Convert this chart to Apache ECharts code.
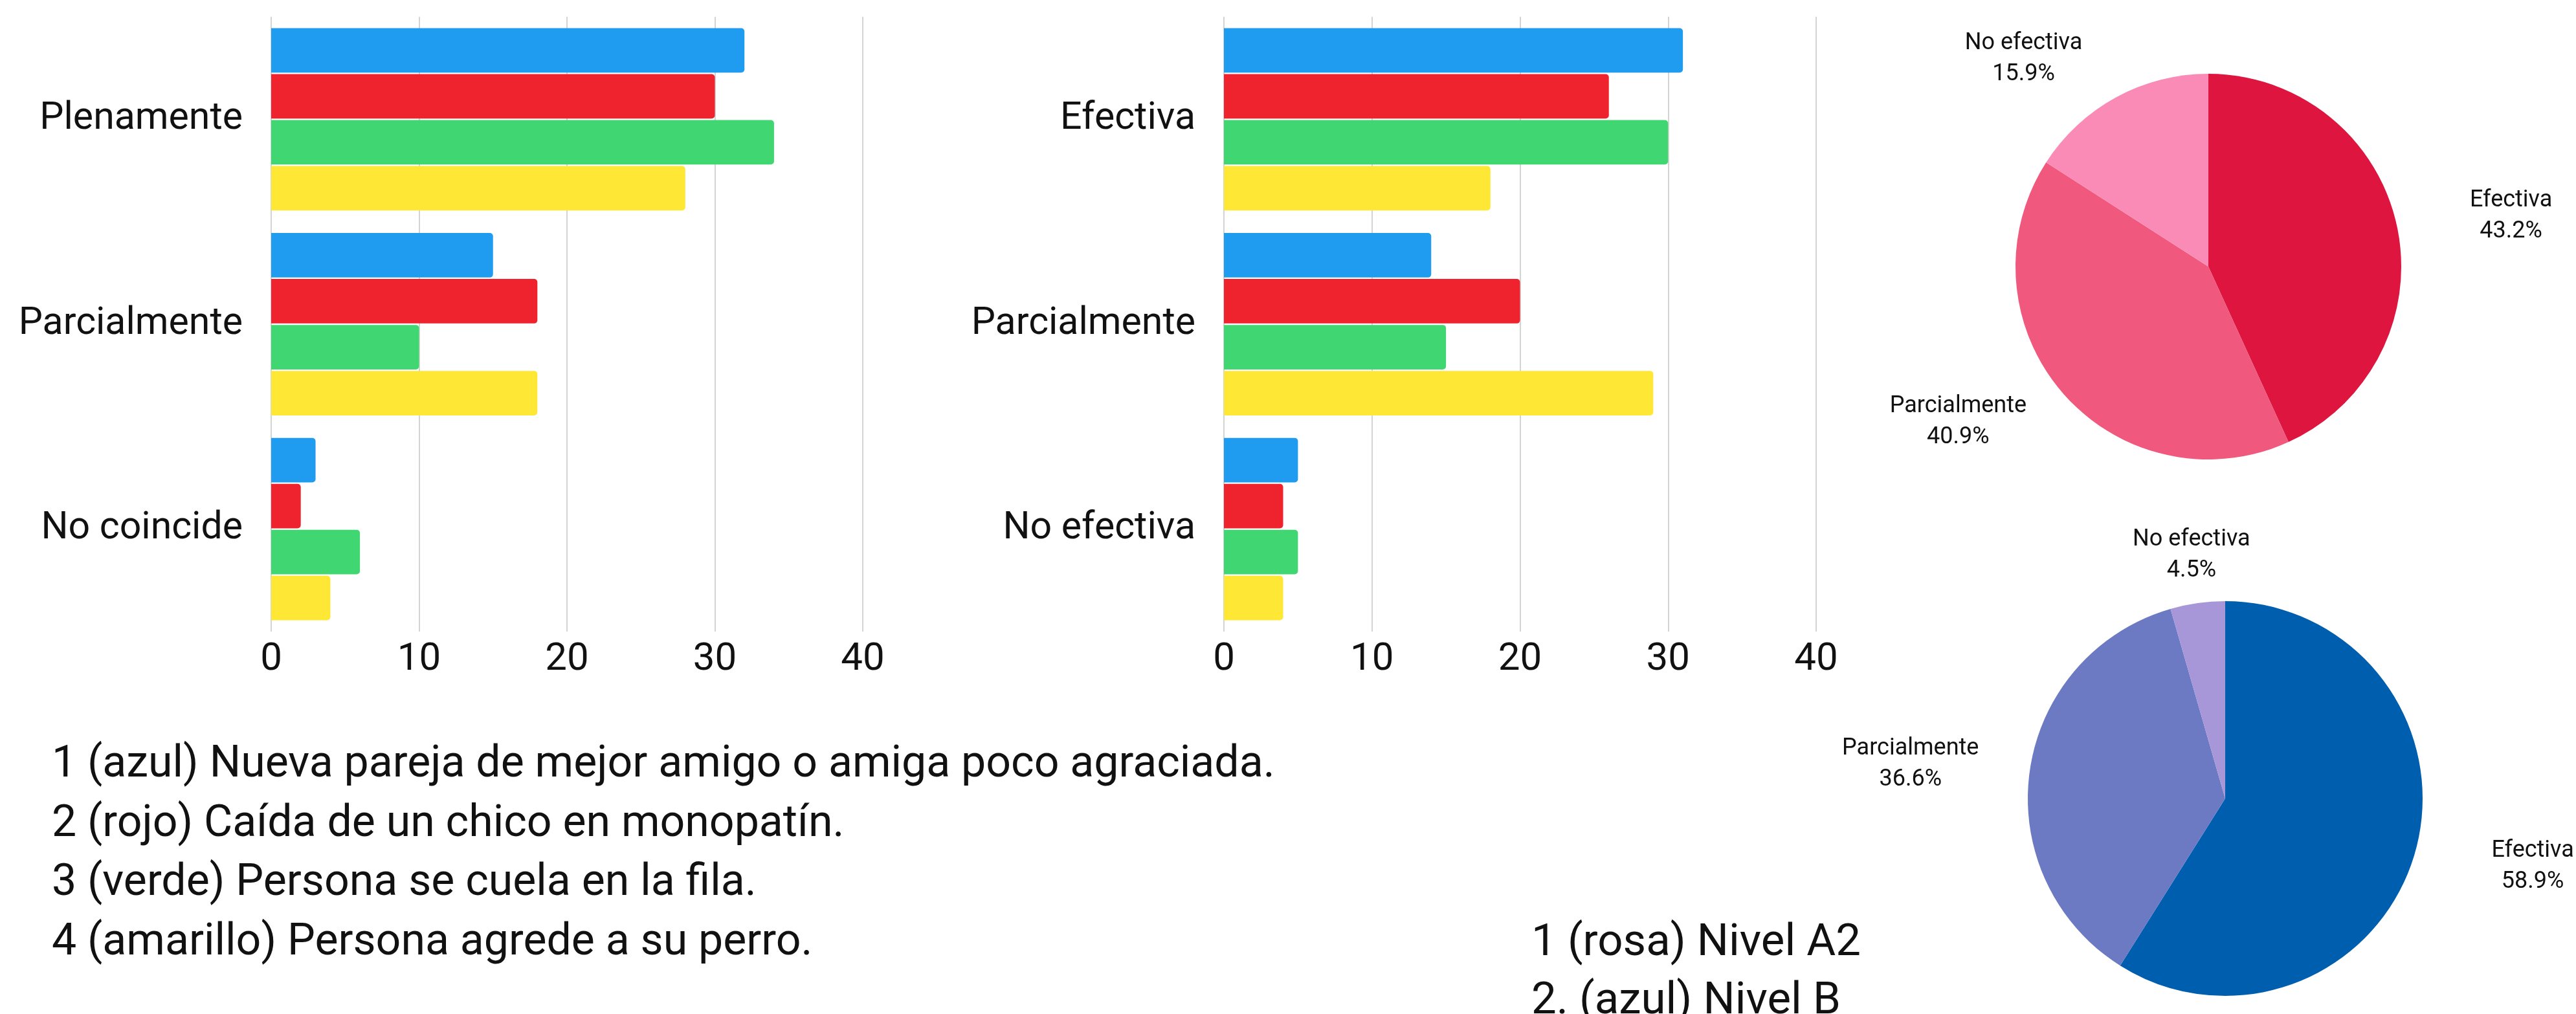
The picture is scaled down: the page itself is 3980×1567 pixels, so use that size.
<!DOCTYPE html>
<html>
<head>
<meta charset="utf-8">
<script src="https://cdn.jsdelivr.net/npm/echarts@6/dist/echarts.min.js"></script>
<style>
  html, body { margin: 0; padding: 0; background: #fff; }
  #chart { width: 3980px; height: 1567px; }
</style>
</head>
<body>
<div id="chart"></div>
<script>
// datos de las dos encuestas
const coincideCats = ['Plenamente', 'Parcialmente', 'No coincide'];
const efectivaCats = ['Efectiva', 'Parcialmente', 'No efectiva'];
const situaciones = ['1 (azul)', '2 (rojo)', '3 (verde)', '4 (amarillo)'];
const colores = ['#1f9cf0', '#ef232d', '#40d672', '#fee735'];

const coincideAzul = [32, 15, 3];
const coincideRojo = [30, 18, 2];
const coincideVerde = [34, 10, 6];
const coincideAmarillo = [28, 18, 4];

const efectivaAzul = [31, 14, 5];
const efectivaRojo = [26, 20, 4];
const efectivaVerde = [30, 15, 5];
const efectivaAmarillo = [18, 29, 4];

const xMin = 0, xMax = 40, xStep = 10;

const pieCats = ['Efectiva', 'Parcialmente', 'No efectiva'];
const pieA2 = [19, 18, 7];
const pieB = [66, 41, 5];
const coloresA2 = ['#dd153f', '#f0587d', '#f98bb6'];
const coloresB = ['#005eaf', '#6c79c3', '#a797d8'];

const notasIzq = [
  '1 (azul) Nueva pareja de mejor amigo o amiga poco agraciada.',
  '2 (rojo) Caída de un chico en monopatín.',
  '3 (verde) Persona se cuela en la fila.',
  '4 (amarillo) Persona agrede a su perro.'
];
const notasDer = ['1 (rosa) Nivel A2', '2. (azul) Nivel B'];

const FONT = 'Roboto';
const myChart = echarts.init(document.getElementById('chart'));

function ejes(grid) {
  return {
    x: {
      type: 'value', gridIndex: grid, min: xMin, max: xMax, interval: xStep,
      axisLine: { show: false }, axisTick: { show: false },
      splitLine: { lineStyle: { color: '#d4d4d4', width: 2 } },
      axisLabel: { fontSize: 60, color: '#111', fontFamily: FONT, margin: 14 }
    },
    y: {
      type: 'category', gridIndex: grid, inverse: true,
      data: grid === 0 ? coincideCats : efectivaCats,
      axisLine: { show: false }, axisTick: { show: false },
      axisLabel: { fontSize: 59, color: '#111', fontFamily: FONT, margin: 44 }
    }
  };
}

function barras(grid, listas) {
  return listas.map((vals, i) => ({
    type: 'bar', name: situaciones[i], xAxisIndex: grid, yAxisIndex: grid,
    data: vals, barGap: '3.3%', barCategoryGap: '11%',
    itemStyle: { color: colores[i], borderRadius: [0, 5, 5, 0] }
  }));
}

function tarta(vals, cols, center, radius, len, len2s) {
  return {
    type: 'pie', center: center, radius: radius, startAngle: 90, clockwise: true,
    avoidLabelOverlap: false, percentPrecision: 1,
    data: vals.map((v, i) => ({
      name: pieCats[i], value: v, itemStyle: { color: cols[i] },
      labelLine: { show: false, length: len, length2: len2s[i] }
    })),
    label: {
      position: 'outside', distanceToLabelLine: 0,
      formatter: '{t|{b}}\n{t|{d}%}',
      rich: { t: { width: 220, align: 'center', fontSize: 36, lineHeight: 48, color: '#111', fontFamily: FONT } }
    },
    emphasis: { disabled: true }
  };
}

const e0 = ejes(0), e1 = ejes(1);

const graficos = [];
notasIzq.forEach((t, i) => graficos.push({
  type: 'text', left: 80, top: 1149 + i * 91.7,
  style: { text: t, fontSize: 68, fill: '#111', fontFamily: FONT }
}));
notasDer.forEach((t, i) => graficos.push({
  type: 'text', left: 2366, top: 1424 + i * 90,
  style: { text: t, fontSize: 69, fill: '#111', fontFamily: FONT }
}));

const option = {
  backgroundColor: '#fff',
  animation: false,
  textStyle: { fontFamily: FONT },
  grid: [
    { left: 419, width: 914, top: 26, height: 950 },
    { left: 1891, width: 915, top: 26, height: 950 }
  ],
  xAxis: [e0.x, e1.x],
  yAxis: [e0.y, e1.y],
  series: [
    ...barras(0, [coincideAzul, coincideRojo, coincideVerde, coincideAmarillo]),
    ...barras(1, [efectivaAzul, efectivaRojo, efectivaVerde, efectivaAmarillo]),
    tarta(pieA2, coloresA2, [3412, 412], 298, 68, [0, 0, 0]),
    tarta(pieB, coloresB, [3438, 1234], 305, 75, [0, 0, -111])
  ],
  graphic: graficos
};
myChart.setOption(option);
</script>
</body>
</html>
